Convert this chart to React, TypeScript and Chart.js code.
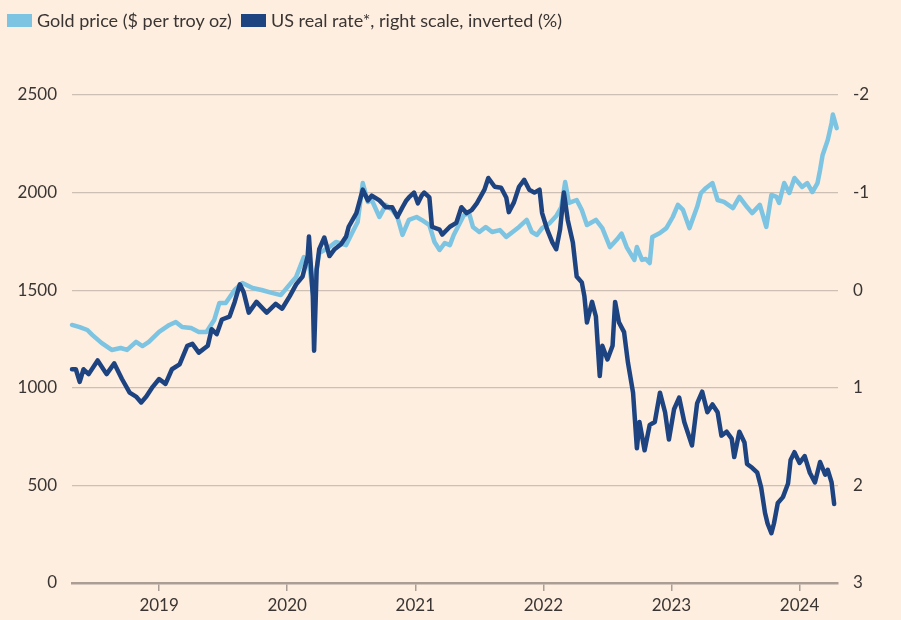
import React, { useRef, useEffect } from 'react';
import { Chart, registerables } from 'chart.js';

Chart.register(...registerables);

// x values are decimal years
const goldDates = [
  2018.32, 2018.38, 2018.44, 2018.48, 2018.55, 2018.63, 2018.70, 2018.75, 2018.82, 2018.87,
  2018.92, 2019.00, 2019.08, 2019.13, 2019.18, 2019.25, 2019.31, 2019.37, 2019.43, 2019.47,
  2019.52, 2019.59, 2019.65, 2019.73, 2019.80, 2019.88, 2019.95, 2020.02, 2020.07, 2020.13,
  2020.17, 2020.20, 2020.25, 2020.33, 2020.38, 2020.46, 2020.51, 2020.55, 2020.59, 2020.63,
  2020.66, 2020.72, 2020.77, 2020.82, 2020.86, 2020.90, 2020.95, 2021.01, 2021.05, 2021.11,
  2021.15, 2021.19, 2021.23, 2021.27, 2021.30, 2021.34, 2021.38, 2021.42, 2021.45, 2021.50,
  2021.55, 2021.60, 2021.66, 2021.71, 2021.76, 2021.81, 2021.87, 2021.91, 2021.95, 2021.99,
  2022.05, 2022.10, 2022.14, 2022.17, 2022.20, 2022.26, 2022.30, 2022.34, 2022.41, 2022.46,
  2022.52, 2022.57, 2022.61, 2022.65, 2022.71, 2022.73, 2022.77, 2022.80, 2022.83, 2022.85,
  2022.91, 2022.96, 2023.01, 2023.05, 2023.09, 2023.14, 2023.20, 2023.23, 2023.27, 2023.32,
  2023.36, 2023.41, 2023.48, 2023.53, 2023.59, 2023.63, 2023.69, 2023.74, 2023.78, 2023.82,
  2023.84, 2023.88, 2023.92, 2023.96, 2024.02, 2024.06, 2024.10, 2024.14, 2024.16, 2024.18,
  2024.22, 2024.25, 2024.26, 2024.29,
];

const goldPrice = [
  1322, 1311, 1296, 1270, 1230, 1194, 1204, 1194, 1235, 1214,
  1235, 1286, 1322, 1337, 1311, 1306, 1286, 1286, 1347, 1434,
  1434, 1501, 1537, 1511, 1501, 1486, 1475, 1530, 1568, 1670,
  1639, 1490, 1690, 1721, 1747, 1731, 1798, 1849, 2049, 1952,
  1962, 1875, 1937, 1911, 1875, 1783, 1860, 1875, 1860, 1834,
  1747, 1706, 1742, 1731, 1783, 1834, 1885, 1895, 1824, 1798,
  1824, 1798, 1808, 1773, 1798, 1824, 1860, 1798, 1783, 1818,
  1844, 1880, 1926, 2054, 1947, 1962, 1911, 1834, 1860, 1818,
  1721, 1757, 1790, 1721, 1655, 1721, 1655, 1660, 1639, 1773,
  1793, 1818, 1875, 1937, 1911, 1818, 1926, 1998, 2024, 2049,
  1962, 1952, 1921, 1978, 1926, 1895, 1937, 1824, 1988, 1978,
  1947, 2049, 1998, 2075, 2029, 2049, 2003, 2049, 2116, 2193,
  2269, 2357, 2400, 2330,
];

const rateDates = [
  2018.32, 2018.35, 2018.38, 2018.41, 2018.45, 2018.52, 2018.59, 2018.65, 2018.71, 2018.77,
  2018.82, 2018.86, 2018.90, 2018.95, 2019.00, 2019.05, 2019.10, 2019.16, 2019.22, 2019.26,
  2019.31, 2019.38, 2019.41, 2019.45, 2019.49, 2019.55, 2019.59, 2019.63, 2019.66, 2019.70,
  2019.76, 2019.84, 2019.91, 2019.96, 2020.02, 2020.07, 2020.12, 2020.16, 2020.17, 2020.20,
  2020.21, 2020.23, 2020.25, 2020.29, 2020.33, 2020.37, 2020.42, 2020.46, 2020.48, 2020.54,
  2020.59, 2020.63, 2020.66, 2020.72, 2020.77, 2020.82, 2020.86, 2020.90, 2020.93, 2020.95,
  2020.99, 2021.02, 2021.05, 2021.07, 2021.11, 2021.13, 2021.19, 2021.21, 2021.27, 2021.32,
  2021.36, 2021.40, 2021.44, 2021.48, 2021.54, 2021.57, 2021.62, 2021.67, 2021.71, 2021.73,
  2021.77, 2021.81, 2021.85, 2021.89, 2021.93, 2021.97, 2021.99, 2022.03, 2022.07, 2022.10,
  2022.13, 2022.16, 2022.19, 2022.23, 2022.26, 2022.30, 2022.32, 2022.34, 2022.38, 2022.41,
  2022.44, 2022.46, 2022.50, 2022.54, 2022.56, 2022.59, 2022.63, 2022.66, 2022.70, 2022.73,
  2022.75, 2022.79, 2022.83, 2022.87, 2022.91, 2022.95, 2022.98, 2023.02, 2023.06, 2023.10,
  2023.16, 2023.20, 2023.24, 2023.28, 2023.32, 2023.36, 2023.39, 2023.43, 2023.47, 2023.49,
  2023.53, 2023.57, 2023.59, 2023.63, 2023.67, 2023.70, 2023.73, 2023.75, 2023.78, 2023.80,
  2023.83, 2023.87, 2023.91, 2023.93, 2023.96, 2024.00, 2024.04, 2024.08, 2024.12, 2024.16,
  2024.20, 2024.22, 2024.25, 2024.27,
];

const realRate = [
  0.81, 0.81, 0.94, 0.81, 0.86, 0.72, 0.86, 0.75, 0.91, 1.05,
  1.09, 1.15, 1.09, 0.99, 0.91, 0.96, 0.81, 0.76, 0.57, 0.55,
  0.64, 0.57, 0.40, 0.45, 0.30, 0.27, 0.12, -0.06, 0.02, 0.23,
  0.12, 0.23, 0.14, 0.19, 0.06, -0.06, -0.14, -0.35, -0.55, 0.06,
  0.62, -0.21, -0.42, -0.54, -0.35, -0.42, -0.47, -0.55, -0.65, -0.79,
  -1.03, -0.92, -0.97, -0.92, -0.85, -0.85, -0.75, -0.85, -0.92, -0.95,
  -1.0, -0.89, -0.97, -1.0, -0.95, -0.65, -0.62, -0.57, -0.65, -0.69,
  -0.85, -0.79, -0.82, -0.89, -1.03, -1.15, -1.06, -1.05, -0.95, -0.80,
  -0.90, -1.06, -1.13, -1.03, -1.0, -1.03, -0.79, -0.62, -0.49, -0.42,
  -0.62, -1.0, -0.72, -0.49, -0.14, -0.08, 0.06, 0.33, 0.12, 0.27,
  0.88, 0.57, 0.71, 0.57, 0.12, 0.33, 0.43, 0.74, 1.05, 1.62,
  1.35, 1.64, 1.38, 1.35, 1.05, 1.25, 1.53, 1.22, 1.10, 1.35,
  1.59, 1.16, 1.04, 1.25, 1.17, 1.25, 1.49, 1.45, 1.52, 1.71,
  1.45, 1.56, 1.78, 1.82, 1.87, 2.02, 2.28, 2.39, 2.49, 2.39,
  2.18, 2.12, 1.98, 1.74, 1.66, 1.77, 1.70, 1.87, 1.97, 1.76,
  1.89, 1.84, 1.97, 2.19,
];

const yearTicks = [2019, 2020, 2021, 2022, 2023, 2024];
const goldTicks = [0, 500, 1000, 1500, 2000, 2500];
const rateTicks = [-2, -1, 0, 1, 2, 3];

const legendItems = [
  { label: 'Gold price ($ per troy oz)', color: '#7cc4e2' },
  { label: 'US real rate*, right scale, inverted (%)', color: '#1d4380' },
];

const FONT = 'Lato, "Noto Sans", sans-serif';
const TEXT = '#3a3532';
const GRID = '#cdbfb3';
const AXIS = '#ab9d93';

const App: React.FC = () => {
  const canvasRef = useRef<HTMLCanvasElement | null>(null);

  useEffect(() => {
    document.body.style.margin = '0';
    const ctx = canvasRef.current?.getContext('2d');
    if (!ctx) return;

    const chart = new Chart(ctx, {
      type: 'line',
      data: {
        datasets: [
          {
            label: legendItems[1].label,
            data: rateDates.map((x, i) => ({ x, y: realRate[i] })),
            yAxisID: 'y1',
            borderColor: legendItems[1].color,
            borderWidth: 4.5,
            pointRadius: 0,
            tension: 0,
            borderJoinStyle: 'round',
            borderCapStyle: 'round',
            order: 1,
          },
          {
            label: legendItems[0].label,
            data: goldDates.map((x, i) => ({ x, y: goldPrice[i] })),
            yAxisID: 'y',
            borderColor: legendItems[0].color,
            borderWidth: 4.5,
            pointRadius: 0,
            tension: 0,
            borderJoinStyle: 'round',
            borderCapStyle: 'round',
            order: 2,
          },
        ],
      },
      options: {
        responsive: false,
        animation: false,
        clip: false,
        layout: { padding: { top: 95, left: 0, right: 0, bottom: 0 } },
        plugins: { legend: { display: false }, tooltip: { enabled: false } },
        scales: {
          x: {
            type: 'linear',
            min: 2018.32,
            max: 2024.3,
            afterBuildTicks: (s: any) => {
              s.ticks = yearTicks.map((v) => ({ value: v }));
            },
            afterFit: (s: any) => {
              s.height = 37;
            },
            ticks: {
              color: TEXT,
              font: { family: FONT, size: 17 },
              padding: 4,
              maxRotation: 0,
              callback: (v: any) => String(v),
            },
            grid: {
              drawOnChartArea: false,
              drawTicks: true,
              tickLength: 8,
              color: AXIS,
              lineWidth: 1.5,
            },
            border: { display: true, color: AXIS, width: 2.5 },
          },
          y: {
            position: 'left',
            min: 0,
            max: 2500,
            afterBuildTicks: (s: any) => {
              s.ticks = goldTicks.map((v) => ({ value: v }));
            },
            afterFit: (s: any) => {
              s.width = 72;
            },
            ticks: {
              color: TEXT,
              font: { family: FONT, size: 17 },
              padding: 15,
              callback: (v: any) => String(v),
            },
            grid: {
              drawTicks: false,
              color: (c: any) => (c.tick && c.tick.value === 0 ? 'rgba(0,0,0,0)' : GRID),
              lineWidth: 1.2,
            },
            border: { display: false },
          },
          y1: {
            position: 'right',
            reverse: true,
            min: -2,
            max: 3,
            afterBuildTicks: (s: any) => {
              s.ticks = rateTicks.map((v) => ({ value: v }));
            },
            afterFit: (s: any) => {
              s.width = 63;
            },
            ticks: {
              color: TEXT,
              font: { family: FONT, size: 17 },
              padding: 15,
              callback: (v: any) => String(v),
            },
            grid: { drawOnChartArea: false, drawTicks: false },
            border: { display: false },
          },
        },
      },
    });

    return () => {
      chart.destroy();
    };
  }, []);

  return (
    <div style={{ position: 'relative', width: 901, height: 620, background: '#fdeee0', fontFamily: FONT }}>
      <div
        style={{
          position: 'absolute',
          top: 9,
          left: 7,
          display: 'flex',
          alignItems: 'center',
          fontSize: 18,
          color: TEXT,
          whiteSpace: 'nowrap',
        }}
      >
        {legendItems.map((item) => (
          <div key={item.label} style={{ display: 'flex', alignItems: 'center', marginRight: 9 }}>
            <span style={{ display: 'inline-block', width: 25, height: 13, background: item.color, marginRight: 5 }} />
            <span>{item.label}</span>
          </div>
        ))}
      </div>
      <canvas ref={canvasRef} width={901} height={620} style={{ display: 'block' }} />
    </div>
  );
};

export default App;
